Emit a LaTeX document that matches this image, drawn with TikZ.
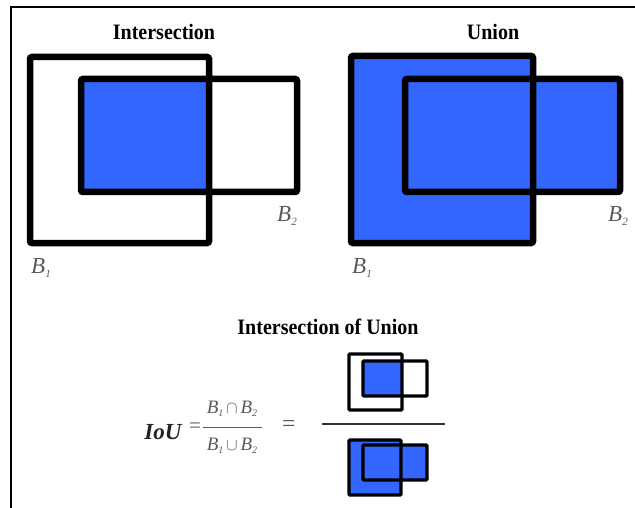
\documentclass[tikz,border=0pt]{standalone}
\usepackage{fontspec}
\setmainfont{Liberation Serif}
\definecolor{boxblue}{RGB}{51,102,255}
\definecolor{labgray}{RGB}{90,90,90}
\begin{document}
\begin{tikzpicture}[x=1pt,y=-1pt,
  bigbox/.style={draw=black,line width=6.5pt,rounded corners=2pt},
  smallbox/.style={draw=black,line width=3.2pt,rounded corners=1pt},
  title/.style={font=\fontsize{20}{20}\selectfont\bfseries,inner sep=0pt,yscale=1.1},
  blabel/.style={font=\fontsize{23}{23}\selectfont\itshape,text=labgray,inner sep=0pt},
  formula/.style={font=\fontsize{19}{19}\selectfont\itshape,text=labgray,inner sep=0pt}]
\useasboundingbox (0,0) rectangle (635,508);
% frame
\draw[line width=2pt] (10.5,7) -- (635,7);
\draw[line width=2pt] (10.5,6) -- (10.5,508);
% titles
\node[title] (tint) at (164,32) {Intersection};
\node[title] (tuni) at (493,32) {Union};
% intersection panel
\fill[boxblue] (81,79) rectangle (209,192);
\draw[bigbox] (30,57) rectangle (209,243);
\draw[bigbox] (81,79) rectangle (297,192);
\node[blabel] (ib2) at (287,216) {B\raisebox{-0.45ex}{\fontsize{11}{11}\selectfont 2}};
\node[blabel] (ib1) at (41,268) {B\raisebox{-0.45ex}{\fontsize{11}{11}\selectfont 1}};
% union panel
\fill[boxblue] (351,56) rectangle (533,243);
\fill[boxblue] (405,79) rectangle (620,192);
\draw[bigbox] (351,56) rectangle (533,243);
\draw[bigbox] (405,79) rectangle (620,192);
\node[blabel] (ub2) at (618,216) {B\raisebox{-0.45ex}{\fontsize{11}{11}\selectfont 2}};
\node[blabel] (ub1) at (362,268) {B\raisebox{-0.45ex}{\fontsize{11}{11}\selectfont 1}};
% bottom title
\node[title] (tiou) at (328,327) {Intersection of Union};
% formula
\node[font=\fontsize{23}{23}\selectfont\bfseries\itshape,text={rgb,255:red,35;green,35;blue,35},inner sep=0pt] (iou) at (163,432) {IoU};
\node[formula,font=\fontsize{21}{21}\selectfont] (eq1) at (195,428) {=};
\node[formula] (num) at (232,409) {B\raisebox{-0.4ex}{\fontsize{10}{10}\selectfont 1}$\,\cap\,$B\raisebox{-0.4ex}{\fontsize{10}{10}\selectfont 2}};
\node[formula] (den) at (232,446) {B\raisebox{-0.4ex}{\fontsize{10}{10}\selectfont 1}$\,\cup\,$B\raisebox{-0.4ex}{\fontsize{10}{10}\selectfont 2}};
\coordinate (fbl) at (203,427);
\coordinate (fbr) at (262,427);
\draw[labgray,line width=0.8pt] (fbl) -- (fbr);
\node[formula,font=\fontsize{24}{24}\selectfont] (eq2) at (289,426) {=};
% big fraction line
\coordinate (bl) at (322,424);
\coordinate (br) at (445,424);
\draw[line width=1.2pt,black!80] (bl) -- (br);
% small intersection icon
\fill[boxblue] (363,361) rectangle (402,396);
\draw[smallbox] (349,354) rectangle (402,410);
\draw[smallbox] (363,361) rectangle (427,396);
% small union icon
\fill[boxblue] (349,440) rectangle (401,495);
\fill[boxblue] (363,445) rectangle (427,480);
\draw[smallbox] (349,440) rectangle (401,495);
\draw[smallbox] (363,445) rectangle (427,480);
\end{tikzpicture}
\end{document}
